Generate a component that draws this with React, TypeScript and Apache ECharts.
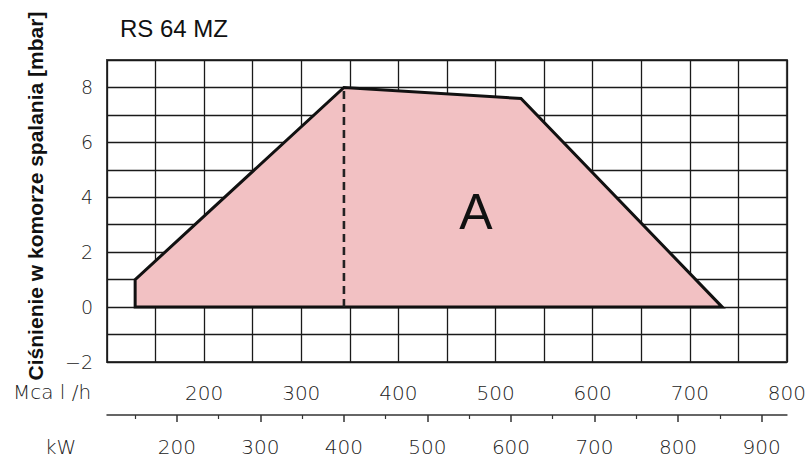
import React, { useEffect, useRef } from "react";
import * as echarts from "echarts";

// Data (kW on the x axis, mbar on the y axis)
const areaKw = [150, 150, 400, 612, 853];
const areaMbar = [0, 1, 8, 7.6, 0];
const dashKw = [400, 400];
const dashMbar = [0, 8];

// Axis definitions
const MCAL_MIN = 100;
const MCAL_MAX = 800;
const KW_PER_MCAL = 1.163;
const kwLabels = [200, 300, 400, 500, 600, 700, 800, 900];
const kwMinorTicks = [150, 250, 350, 450, 550, 650, 750, 850];
const yMin = -2;
const yMax = 9;

const title = "RS 64 MZ";
const yTitle = "Ciśnienie w komorze spalania [mbar]";
const areaLabel = "A";

const TICK_FONT = "DejaVu Sans";

export default function App() {
  const ref = useRef<HTMLDivElement>(null);
  useEffect(() => {
    if (!ref.current) return;
    const chart = echarts.init(ref.current, null, { renderer: "svg" });
    const kwMin = MCAL_MIN * KW_PER_MCAL;
    const kwMax = MCAL_MAX * KW_PER_MCAL;
    const option: any = {
      animation: false,
      backgroundColor: "#ffffff",
      grid: {
        left: 107,
        right: 22,
        top: 60,
        bottom: 97,
        show: true,
        borderColor: "#444",
        borderWidth: 2,
        backgroundColor: "transparent",
      },
      xAxis: [
        {
          type: "value",
          min: MCAL_MIN,
          max: MCAL_MAX,
          interval: 50,
          position: "bottom",
          axisLine: { show: false },
          axisTick: { show: false },
          splitLine: { show: true, lineStyle: { color: "#1a1a1a", width: 1.3 } },
          axisLabel: {
            margin: 21,
            fontFamily: TICK_FONT,
            fontWeight: 200,
            fontSize: 20,
            color: "#222",
            formatter: (v: number) => (v % 100 === 0 && v !== MCAL_MIN ? String(v) : ""),
          },
        },
        {
          type: "value",
          min: kwMin,
          max: kwMax,
          position: "bottom",
          offset: 53,
          axisLine: { show: true, lineStyle: { color: "#333", width: 1.5 } },
          axisTick: {
            show: true,
            inside: false,
            length: 7,
            customValues: kwLabels,
            lineStyle: { color: "#333", width: 1.5 },
          },
          splitLine: { show: false },
          axisLabel: {
            customValues: kwLabels,
            margin: 22,
            fontFamily: TICK_FONT,
            fontWeight: 200,
            fontSize: 20,
            color: "#222",
          },
        },
        {
          type: "value",
          min: kwMin,
          max: kwMax,
          position: "bottom",
          offset: 53,
          axisLine: { show: false },
          axisTick: {
            show: true,
            length: 4,
            customValues: kwMinorTicks,
            lineStyle: { color: "#333", width: 1.2 },
          },
          splitLine: { show: false },
          axisLabel: { show: false },
        },
      ],
      yAxis: [
        {
          type: "value",
          min: yMin,
          max: yMax,
          interval: 1,
          axisLine: { show: false },
          axisTick: { show: false },
          splitLine: { show: true, lineStyle: { color: "#1a1a1a", width: 1.3 } },
          axisLabel: {
            margin: 14,
            fontFamily: TICK_FONT,
            fontWeight: 200,
            fontSize: 19,
            color: "#222",
            formatter: (v: number) =>
              v % 2 === 0 ? (v < 0 ? "\u2212" + Math.abs(v) : String(v)) : "",
          },
        },
      ],
      series: [
        {
          type: "custom",
          coordinateSystem: "cartesian2d",
          xAxisIndex: 1,
          yAxisIndex: 0,
          z: 3,
          data: [[areaKw[0], areaMbar[0]]],
          renderItem: (_params: any, api: any) => {
            const pts = areaKw.map((x, i) => api.coord([x, areaMbar[i]]));
            return {
              type: "polygon",
              shape: { points: pts },
              style: {
                fill: "#f2c1c3",
                stroke: "#111",
                lineWidth: 3,
                lineJoin: "miter",
              },
            };
          },
        },
        {
          type: "line",
          xAxisIndex: 1,
          yAxisIndex: 0,
          z: 4,
          symbol: "none",
          data: dashKw.map((x, i) => [x, dashMbar[i]]),
          lineStyle: { color: "#222", width: 2.6, type: [8, 5] },
        },
      ],
      graphic: [
        {
          type: "text",
          left: 120,
          top: 16,
          style: {
            text: title,
            fontFamily: "Liberation Sans",
            fontSize: 24,
            fill: "#111",
          },
        },
        {
          type: "text",
          x: 35,
          y: 196,
          rotation: Math.PI / 2,
          style: {
            text: yTitle,
            fontFamily: "Liberation Sans",
            fontWeight: "bold",
            fontSize: 21,
            fill: "#111",
            align: "center",
            verticalAlign: "middle",
          },
        },
        {
          type: "text",
          x: 13,
          y: 392,
          style: {
            text: "Mca l /h",
            fontFamily: TICK_FONT,
            fontWeight: 200,
            fontSize: 20,
            fill: "#222",
            align: "left",
            verticalAlign: "middle",
          },
        },
        {
          type: "text",
          x: 45,
          y: 447,
          style: {
            text: "kW",
            fontFamily: TICK_FONT,
            fontWeight: 200,
            fontSize: 20,
            fill: "#222",
            align: "left",
            verticalAlign: "middle",
          },
        },
        {
          type: "text",
          x: 476,
          y: 212,
          z: 10,
          style: {
            text: areaLabel,
            fontFamily: "Liberation Sans",
            fontSize: 50,
            fill: "#111",
            align: "center",
            verticalAlign: "middle",
          },
        },
      ],
    };
    chart.setOption(option);
    return () => chart.dispose();
  }, []);
  return (
    <div
      ref={ref}
      style={{ position: "fixed", left: 0, top: 0, width: 809, height: 459 }}
    />
  );
}
